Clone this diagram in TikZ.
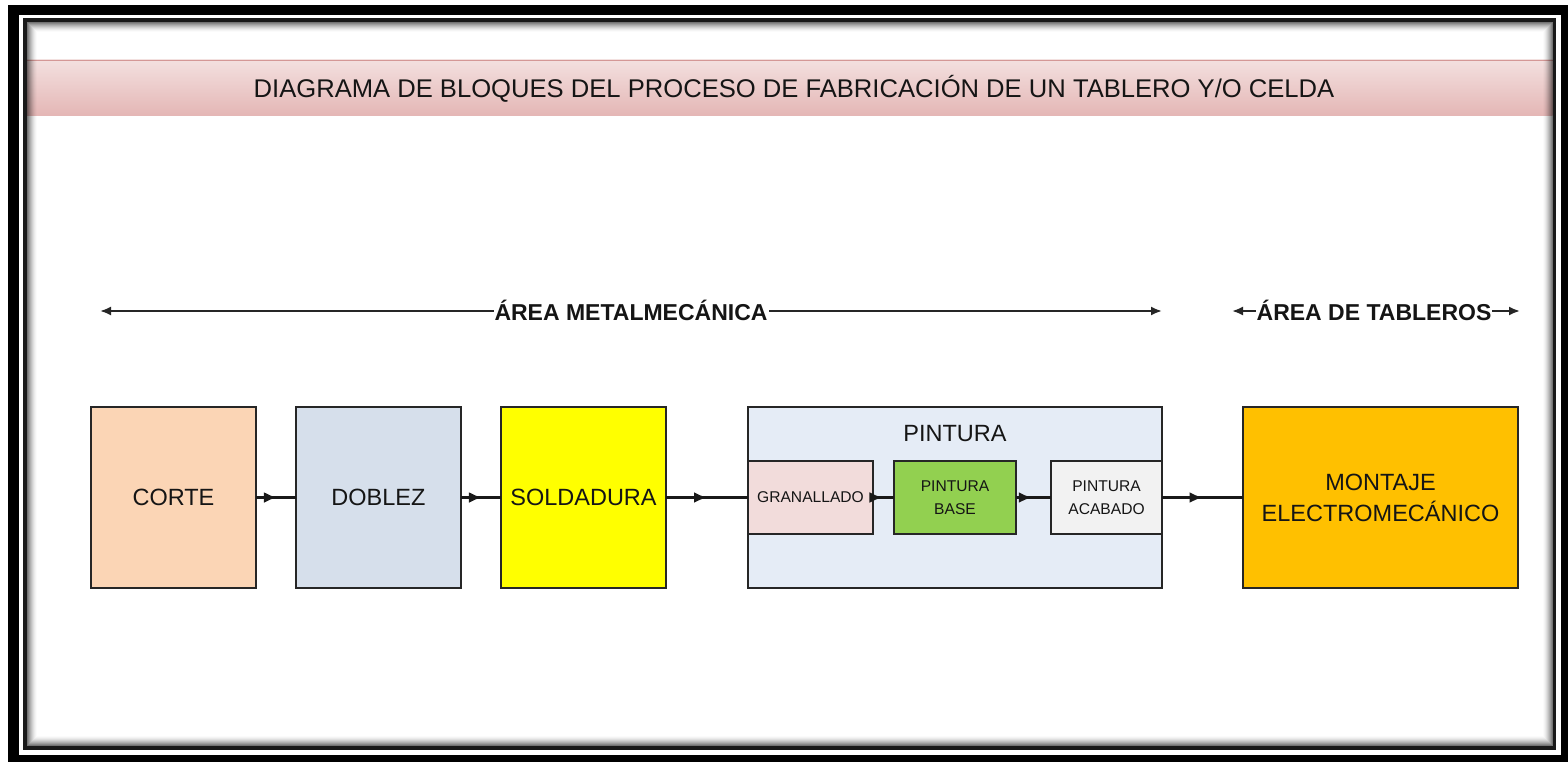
\documentclass[tikz,border=0pt]{standalone}
\usepackage{fontspec}
\setmainfont{Liberation Sans}
\usetikzlibrary{arrows.meta,decorations.markings}
\definecolor{cortec}{HTML}{FBD5B5}
\definecolor{doblezc}{HTML}{D6DFEB}
\definecolor{soldc}{HTML}{FFFF00}
\definecolor{pintc}{HTML}{E5ECF6}
\definecolor{granc}{HTML}{F2DCDB}
\definecolor{basec}{HTML}{92D050}
\definecolor{acabc}{HTML}{F2F2F2}
\definecolor{montc}{HTML}{FFC000}
\definecolor{bandtop}{HTML}{F3E0DF}
\definecolor{bandbot}{HTML}{E4B6B5}
\definecolor{bandline}{HTML}{D49896}
\definecolor{txt}{HTML}{151515}
\begin{document}
\begin{tikzpicture}[x=1pt,y=-1pt,
  blk/.style={draw=black!85, line width=1.8pt, inner sep=0pt, outer sep=0pt, align=center, text=txt},
  big/.style={blk, minimum width=165pt, minimum height=181pt, font=\fontsize{23.5}{31}\selectfont},
  small/.style={blk, minimum height=73pt, font=\fontsize{15.6}{23}\selectfont},
  conn/.style={draw=black!90, line width=2.3pt, postaction={decorate,
     decoration={markings, mark=at position #1 with {\arrow{Latex[length=13pt,width=11pt]}}}}},
  arealine/.style={draw=black!85, line width=2pt, {Latex[length=11pt,width=9pt]}-{Latex[length=11pt,width=9pt]}},
  arealabel/.style={fill=white, inner sep=1pt, text=txt, font=\fontsize{23}{27}\selectfont\bfseries}
]
\useasboundingbox (0,0) rectangle (1568,762);
% outer frame
\fill[white] (0,0) rectangle (1568,762);
\fill[black] (8,5) rectangle (1568,762);
\fill[white] (19,15) rectangle (1561,755);
\fill[black!90] (23,18.5) rectangle (1556,750);
\fill[white] (27,22.5) rectangle (1552.5,745.5);
% title band
\shade[top color=bandtop, bottom color=bandbot] (27,60) rectangle (1552.5,116);
\draw[bandline, line width=1.5pt] (27,60.5) -- (1552.5,60.5);
\node[text=txt, font=\fontsize{25.6}{29}\selectfont] (title) at (794,89) {DIAGRAMA DE BLOQUES DEL PROCESO DE FABRICACIÓN DE UN TABLERO Y/O CELDA};
% inner shadow
\foreach \i in {0,...,9}{
  \pgfmathsetmacro{\op}{0.55*(1-\i/10)^1.6}
  \draw[black, draw opacity=\op, line width=1pt] ({27.5+\i},{23+\i}) rectangle ({1552-\i},{745-\i});
}
% area lines
\coordinate (mL) at (100,311);
\coordinate (mR) at (1162,311);
\draw[arealine] (mL) -- (mR);
\node[arealabel] (metal) at (631,310) {ÁREA METALMECÁNICA};
\coordinate (tL) at (1232,311);
\coordinate (tR) at (1520,311);
\draw[arealine] (tL) -- (tR);
\node[arealabel] (tab) at (1374,310) {ÁREA DE TABLEROS};
% blocks
\node[big, fill=cortec] (corte) at (173.5,497.5) {CORTE};
\node[big, fill=doblezc] (doblez) at (378.5,497.5) {DOBLEZ};
\node[big, fill=soldc] (sold) at (583.5,497.5) {SOLDADURA};
\node[blk, fill=pintc, minimum width=414pt, minimum height=181pt] (pint) at (955,497.5) {};
\node[text=txt, font=\fontsize{23.5}{27}\selectfont] (pintlbl) at (955,434) {PINTURA};
\node[small, fill=granc, minimum width=125pt] (gran) at (810.5,497.5) {GRANALLADO};
\node[small, fill=basec, minimum width=122pt] (base) at (955,497.5) {PINTURA\\BASE};
\node[small, fill=acabc, minimum width=111pt] (acab) at (1106.5,497.5) {PINTURA\\ACABADO};
\node[big, fill=montc, minimum width=275pt] (mont) at (1380.5,497.5) {MONTAJE\\ELECTROMECÁNICO};
% connectors
\draw[conn=0.52] (corte.east) -- (doblez.west);
\draw[conn=0.52] (doblez.east) -- (sold.west);
\draw[conn=0.5] (sold.east) -- (pint.west);
\draw[conn=0.45] (gran.east) -- (base.west);
\draw[conn=0.45] (base.east) -- (acab.west);
\draw[conn=0.5] (acab.east) -- (mont.west);
\end{tikzpicture}
\end{document}
